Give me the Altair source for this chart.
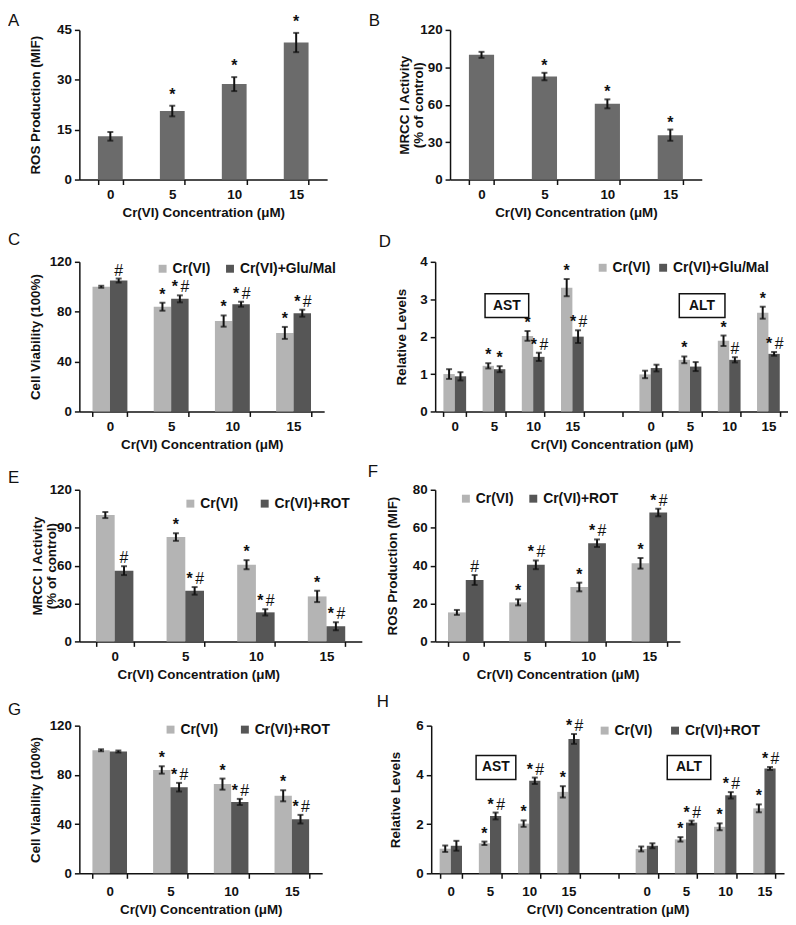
import altair as alt
import pandas as pd

FONT = "Liberation Sans"
INK = "#111111"
LIGHT = "#b4b4b4"
DARK = "#565656"
MID = "#6b6b6b"
XTITLE = "Cr(VI) Concentration (μM)"

CONC = ["0", "5", "10", "15"]
AST_CATS = ["AST|0", "AST|5", "AST|10", "AST|15"]
ALT_CATS = ["ALT|0", "ALT|5", "ALT|10", "ALT|15"]
GAP = ["gap"]

# ---- Panel A: ROS production (MIF)
A_mean = [13.0, 20.6, 28.7, 41.2]
A_err = [1.3, 1.6, 2.1, 2.9]
A_sig = ["", "*", "*", "*"]

# ---- Panel B: MRCC I activity (% of control)
B_mean = [100.0, 82.6, 60.7, 35.6]
B_err = [2.4, 3.0, 3.6, 4.5]
B_sig = ["", "*", "*", "*"]

# ---- Panel C: cell viability, Cr(VI) vs Cr(VI)+Glu/Mal
C_cr_mean = [100.0, 84.0, 72.5, 63.0]
C_cr_err = [0.8, 3.2, 4.5, 4.8]
C_cr_sig = ["", "*", "*", "*"]
C_gm_mean = [105.0, 90.3, 86.0, 78.8]
C_gm_err = [1.6, 2.8, 2.0, 2.8]
C_gm_sig = ["#", "*#", "*#", "*#"]

# ---- Panel D: AST / ALT relative levels, Glu/Mal
D_ast_cr_mean = [1.00, 1.22, 2.02, 3.31]
D_ast_cr_err = [0.13, 0.07, 0.13, 0.23]
D_ast_cr_sig = ["", "*", "*", "*"]
D_ast_gm_mean = [0.94, 1.13, 1.46, 2.00]
D_ast_gm_err = [0.11, 0.08, 0.11, 0.17]
D_ast_gm_sig = ["", "*", "*#", "*#"]
D_alt_cr_mean = [0.99, 1.38, 1.89, 2.64]
D_alt_cr_err = [0.10, 0.09, 0.14, 0.16]
D_alt_cr_sig = ["", "*", "*", "*"]
D_alt_gm_mean = [1.16, 1.20, 1.38, 1.54]
D_alt_gm_err = [0.09, 0.12, 0.07, 0.05]
D_alt_gm_sig = ["", "", "#", "*#"]

# ---- Panel E: MRCC I activity, Cr(VI) vs Cr(VI)+ROT
E_cr_mean = [100.0, 82.6, 60.7, 35.6]
E_cr_err = [2.4, 3.0, 3.6, 4.5]
E_cr_sig = ["", "*", "*", "*"]
E_rot_mean = [56.0, 40.0, 23.0, 12.0]
E_rot_err = [3.5, 3.0, 2.5, 3.2]
E_rot_sig = ["#", "*#", "*#", "*#"]

# ---- Panel F: ROS production, Cr(VI) vs Cr(VI)+ROT
F_cr_mean = [15.3, 20.6, 28.7, 41.2]
F_cr_err = [1.3, 1.6, 2.3, 2.8]
F_cr_sig = ["", "*", "*", "*"]
F_rot_mean = [32.4, 40.4, 51.8, 68.0]
F_rot_err = [2.6, 2.3, 2.0, 2.0]
F_rot_sig = ["#", "*#", "*#", "*#"]

# ---- Panel G: cell viability, Cr(VI) vs Cr(VI)+ROT
G_cr_mean = [100.0, 84.0, 72.5, 63.0]
G_cr_err = [0.8, 3.0, 4.5, 4.5]
G_cr_sig = ["", "*", "*", "*"]
G_rot_mean = [99.0, 70.0, 58.0, 44.0]
G_rot_err = [0.8, 3.5, 2.5, 3.5]
G_rot_sig = ["", "*#", "*#", "*#"]

# ---- Panel H: AST / ALT relative levels, ROT
H_ast_cr_mean = [1.00, 1.22, 2.02, 3.31]
H_ast_cr_err = [0.13, 0.07, 0.13, 0.23]
H_ast_cr_sig = ["", "*", "*", "*"]
H_ast_rot_mean = [1.12, 2.33, 3.76, 5.46]
H_ast_rot_err = [0.20, 0.14, 0.13, 0.20]
H_ast_rot_sig = ["", "*#", "*#", "*#"]
H_alt_cr_mean = [0.99, 1.38, 1.89, 2.64]
H_alt_cr_err = [0.10, 0.09, 0.14, 0.16]
H_alt_cr_sig = ["", "*", "*", "*"]
H_alt_rot_mean = [1.12, 2.06, 3.17, 4.26]
H_alt_rot_err = [0.10, 0.08, 0.13, 0.06]
H_alt_rot_sig = ["", "*#", "*#", "*#"]

S_CR = "Cr(VI)"
S_GM = "Cr(VI)+Glu/Mal"
S_ROT = "Cr(VI)+ROT"


def frame(groups):
    rows = []
    for cats, name, means, errs, sigs in groups:
        for c, m, e, s in zip(cats, means, errs, sigs):
            rows.append({"cat": c, "series": name, "mean": m,
                         "lo": m - e, "hi": m + e, "sig": s})
    return pd.DataFrame(rows)


def panel(df, names, colors, domain, w, h, ymax, yvals, ytitle, ytx, pi,
          letter, lx, ly, legend=None, xtx=None, star_dy=0, boxes=(),
          lpad=3, tpad=5):
    sc_x = alt.Scale(domain=domain, paddingInner=pi, paddingOuter=pi / 2)
    ax_kw = dict(title=XTITLE, tickBand="extent", labelAngle=0,
                 labelPadding=lpad, titlePadding=tpad)
    if len(domain) > 4:
        ax_kw["labelExpr"] = ("indexof(datum.label, '|') >= 0 ? "
                              "split(datum.label, '|')[1] : ''")
    if xtx is not None:
        ax_kw["titleX"] = xtx
    ax_x = alt.Axis(**ax_kw)
    sc_y = alt.Scale(domain=[0, ymax], nice=False)
    ax_y = alt.Axis(values=yvals, title=ytitle, titleX=ytx)

    X = alt.X("cat:N", scale=sc_x, axis=ax_x)
    XO = alt.XOffset("series:N",
                     scale=alt.Scale(domain=names, paddingInner=0, paddingOuter=0))

    def Y(f):
        return alt.Y(f + ":Q", scale=sc_y, axis=ax_y)

    base = alt.Chart(df)
    if legend is not None:
        lgx, lgy, cpad = legend
        color = alt.Color(
            "series:N",
            scale=alt.Scale(domain=names, range=colors),
            legend=alt.Legend(orient="none", legendX=lgx, legendY=lgy,
                              direction="horizontal", title=None,
                              symbolType="square", symbolSize=64,
                              symbolStrokeWidth=0, labelFont=FONT,
                              labelFontSize=14, labelFontWeight="bold",
                              labelColor=INK, labelOffset=3,
                              columnPadding=cpad, padding=0, labelLimit=300))
        bars = base.mark_bar().encode(x=X, xOffset=XO, y=Y("mean"), color=color)
    else:
        bars = base.mark_bar(color=colors[0]).encode(x=X, xOffset=XO, y=Y("mean"))

    rule = base.mark_rule(color=INK, strokeWidth=2).encode(
        x=X, xOffset=XO, y=Y("lo"), y2="hi:Q")
    cap_lo = base.mark_tick(color=INK, thickness=2, size=6).encode(
        x=X, xOffset=XO, y=Y("lo"))
    cap_hi = base.mark_tick(color=INK, thickness=2, size=6).encode(
        x=X, xOffset=XO, y=Y("hi"))

    st = dict(font=FONT, fontSize=16, fontWeight="bold", color=INK,
              baseline="bottom", align="center", dy=star_dy)
    hs = dict(font=FONT, fontSize=16, fontWeight="normal", color=INK,
              baseline="bottom", align="center", dy=star_dy)
    enc = dict(x=X, xOffset=XO, y=Y("hi"))
    t1 = base.transform_filter("datum.sig == '*'").mark_text(text="*", **st).encode(**enc)
    t2 = base.transform_filter("datum.sig == '#'").mark_text(text="#", **hs).encode(**enc)
    t3 = base.transform_filter("datum.sig == '*#'").mark_text(text="*", dx=-5, **st).encode(**enc)
    t4 = base.transform_filter("datum.sig == '*#'").mark_text(text="#", dx=5, **hs).encode(**enc)

    layers = [bars, rule, cap_lo, cap_hi, t1, t2, t3, t4]

    for cat, yv, path, tdx, lab in boxes:
        bdf = pd.DataFrame({"lab": [lab]})
        bx = alt.X(datum=cat, type="nominal", scale=sc_x, axis=ax_x)
        by = alt.Y(datum=yv, type="quantitative", scale=sc_y, axis=ax_y)
        layers.append(alt.Chart(bdf).mark_point(
            shape=path, size=576, filled=True, fill="white", stroke=INK,
            strokeWidth=1.5, opacity=1).encode(x=bx, y=by))
        layers.append(alt.Chart(bdf).mark_text(
            font=FONT, fontSize=14, fontWeight="bold", color=INK,
            align="center", baseline="middle", dx=tdx).encode(
            x=bx, y=by, text="lab:N"))

    lt = alt.Chart(pd.DataFrame({"panel": [letter]})).mark_text(
        font=FONT, fontSize=17, fontWeight="normal", color=INK,
        align="left", baseline="top").encode(
        text="panel:N", x=alt.value(lx), y=alt.value(ly))
    layers.append(lt)
    return alt.layer(*layers).properties(width=w, height=h)


REL = "Relative Levels"
MRCC = ["MRCC I Activity", "(% of control)"]
DDOM = AST_CATS + GAP + ALT_CATS

pA = panel(frame([(CONC, S_CR, A_mean, A_err, A_sig)]), [S_CR], [MID], CONC,
           250, 151, 45, [0, 15, 30, 45], "ROS Production (MIF)", -37, 0.6,
           "A", -72, -17, star_dy=-3)
pB = panel(frame([(CONC, S_CR, B_mean, B_err, B_sig)]), [S_CR], [MID], CONC,
           254, 151, 120, [0, 30, 60, 90, 120], MRCC, -39, 0.6,
           "B", -82, -17, star_dy=1)

pC = panel(frame([(CONC, S_CR, C_cr_mean, C_cr_err, C_cr_sig),
                  (CONC, S_GM, C_gm_mean, C_gm_err, C_gm_sig)]),
           [S_CR, S_GM], [LIGHT, DARK], CONC,
           247, 151, 120, [0, 40, 80, 120], "Cell Viability (100%)", -37, 0.43,
           "C", -72, -30, legend=(77, 0, 12))
pD = panel(frame([(AST_CATS, S_CR, D_ast_cr_mean, D_ast_cr_err, D_ast_cr_sig),
                  (AST_CATS, S_GM, D_ast_gm_mean, D_ast_gm_err, D_ast_gm_sig),
                  (ALT_CATS, S_CR, D_alt_cr_mean, D_alt_cr_err, D_alt_cr_sig),
                  (ALT_CATS, S_GM, D_alt_gm_mean, D_alt_gm_err, D_alt_gm_sig)]),
           [S_CR, S_GM], [LIGHT, DARK], DDOM,
           356, 151, 4, [0, 1, 2, 3, 4], REL, -27, 0.42,
           "D", -57, -28, legend=(162, -1, 5),
           boxes=[("AST|5", 2.83, "M-0.75,-1H2.92V1H-0.75Z", 13, "AST"),
                  ("ALT|5", 2.83, "M-0.9,-1H2.94V1H-0.9Z", 12, "ALT")])

pE = panel(frame([(CONC, S_CR, E_cr_mean, E_cr_err, E_cr_sig),
                  (CONC, S_ROT, E_rot_mean, E_rot_err, E_rot_sig)]),
           [S_CR, S_ROT], [LIGHT, DARK], CONC,
           285, 153, 120, [0, 30, 60, 90, 120], MRCC, -35, 0.47,
           "E", -72, -20, legend=(105, 7, 19), xtx=120)
pF = panel(frame([(CONC, S_CR, F_cr_mean, F_cr_err, F_cr_sig),
                  (CONC, S_ROT, F_rot_mean, F_rot_err, F_rot_sig)]),
           [S_CR, S_ROT], [LIGHT, DARK], CONC,
           247, 153, 80, [0, 20, 40, 60, 80], "ROS Production (MIF)", -36, 0.42,
           "F", -68, -26, legend=(24, 2, 12))

pG = panel(frame([(CONC, S_CR, G_cr_mean, G_cr_err, G_cr_sig),
                  (CONC, S_ROT, G_rot_mean, G_rot_err, G_rot_sig)]),
           [S_CR, S_ROT], [LIGHT, DARK], CONC,
           245, 149, 120, [0, 40, 80, 120], "Cell Viability (100%)", -37, 0.43,
           "G", -72, -24, legend=(85, -3, 19), lpad=6, tpad=5)
pH = panel(frame([(AST_CATS, S_CR, H_ast_cr_mean, H_ast_cr_err, H_ast_cr_sig),
                  (AST_CATS, S_ROT, H_ast_rot_mean, H_ast_rot_err, H_ast_rot_sig),
                  (ALT_CATS, S_CR, H_alt_cr_mean, H_alt_cr_err, H_alt_cr_sig),
                  (ALT_CATS, S_ROT, H_alt_rot_mean, H_alt_rot_err, H_alt_rot_sig)]),
           [S_CR, S_ROT], [LIGHT, DARK], DDOM,
           356, 149, 6, [0, 2, 4, 6], REL, -29, 0.43,
           "H", -55, -32, legend=(168, -2, 15), lpad=6, tpad=5,
           boxes=[("AST|5", 4.3, "M-1.17,-1H2.17V1H-1.17Z", 6, "AST"),
                  ("ALT|5", 4.3, "M-1.58,-1H2.08V1H-1.58Z", 3, "ALT")])


def row(a, b, sp):
    return alt.hconcat(a, b, spacing=sp).resolve_scale(
        color="independent", xOffset="independent")


chart = alt.vconcat(
    row(pA, pB, 42), row(pC, pD, 43), row(pE, pF, 6), row(pG, pH, 47),
    spacing=12,
    padding={"left": 0, "top": 0, "right": 0, "bottom": 0},
).resolve_scale(
    color="independent", xOffset="independent"
).configure_view(
    strokeWidth=0
).configure_axis(
    grid=False, domainColor=INK, domainWidth=1.5, tickColor=INK, tickWidth=1.5,
    tickSize=5, labelFont=FONT, labelFontSize=13.5, labelFontWeight="bold",
    labelColor=INK, titleFont=FONT, titleFontSize=13.5, titleFontWeight="bold",
    titleColor=INK, titleLineHeight=14
).configure_axisY(
    labelPadding=3
)

chart.save("out.html", embed_options={"renderer": "svg", "actions": False})
